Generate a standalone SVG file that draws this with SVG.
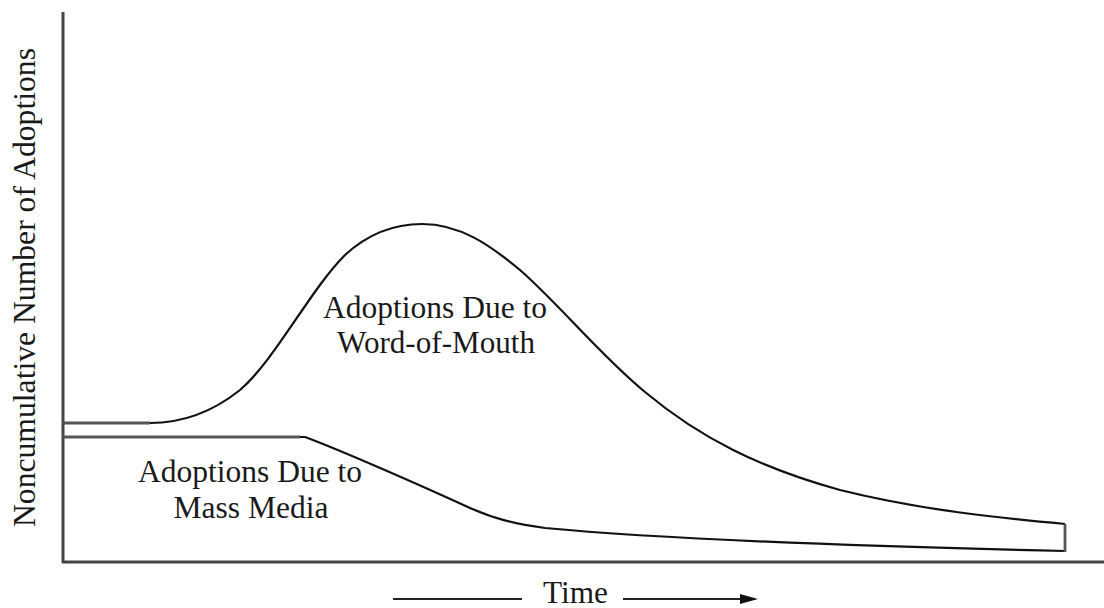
<svg xmlns="http://www.w3.org/2000/svg" width="1104" height="608" viewBox="0 0 1104 608">
<style>
.t{font-family:'Liberation Serif','Times New Roman',serif;font-size:31px;fill:#1a1a1a}
.axis{stroke:#444;stroke-width:3;fill:none}
.curve{stroke:#111;stroke-width:2.2;fill:none}
.base{stroke:#555;stroke-width:2.8;fill:none}
</style>
<rect width="1104" height="608" fill="#fff"/>
<g id="axes">
<line class="axis" x1="63" y1="12" x2="63" y2="563"/>
<line class="axis" x1="62" y1="562" x2="1104" y2="562" stroke="#5a5a5a"/>
</g>
<g id="connectors">
<path id="word-of-mouth-curve" class="curve" d="M63,423 L150,423 C185,423 215,410 240,390 C275,360 310,290 345,255 C370,232 395,224 422,224 C460,224 490,245 520,270 C560,305 600,355 645,392 C700,438 760,468 840,490 C920,510 1000,518 1065,524"/>
<path class="base" d="M63,423 L150,423"/>
<path id="mass-media-curve" class="curve" d="M63,437 L305,437 C340,450 420,485 470,508 C495,519 515,524 545,528 C650,538 850,546 1065,551"/>
<path class="base" d="M63,437 L300,437"/>
<line class="base" x1="1065" y1="524" x2="1065" y2="552"/>
</g>
<g id="y-label">
<text class="t" transform="translate(35,287.5) rotate(-90)" text-anchor="middle" textLength="479" lengthAdjust="spacingAndGlyphs">Noncumulative Number of Adoptions</text>
</g>
<g id="word-of-mouth-label">
<text class="t" x="435" y="318" text-anchor="middle" textLength="224" lengthAdjust="spacingAndGlyphs">Adoptions Due to</text>
<text class="t" x="436" y="353" text-anchor="middle" textLength="198" lengthAdjust="spacingAndGlyphs">Word-of-Mouth</text>
</g>
<g id="mass-media-label">
<text class="t" x="250" y="482" text-anchor="middle" textLength="224" lengthAdjust="spacingAndGlyphs">Adoptions Due to</text>
<text class="t" x="251" y="518" text-anchor="middle" textLength="155" lengthAdjust="spacingAndGlyphs">Mass Media</text>
</g>
<g id="time-label">
<line x1="393" y1="599" x2="522" y2="599" stroke="#222" stroke-width="2"/>
<text class="t" x="575.5" y="603" text-anchor="middle" textLength="65" lengthAdjust="spacingAndGlyphs">Time</text>
<line x1="623" y1="599" x2="744" y2="599" stroke="#222" stroke-width="2"/>
<polygon points="758,599 740,594 740,604" fill="#111"/>
</g>
</svg>
